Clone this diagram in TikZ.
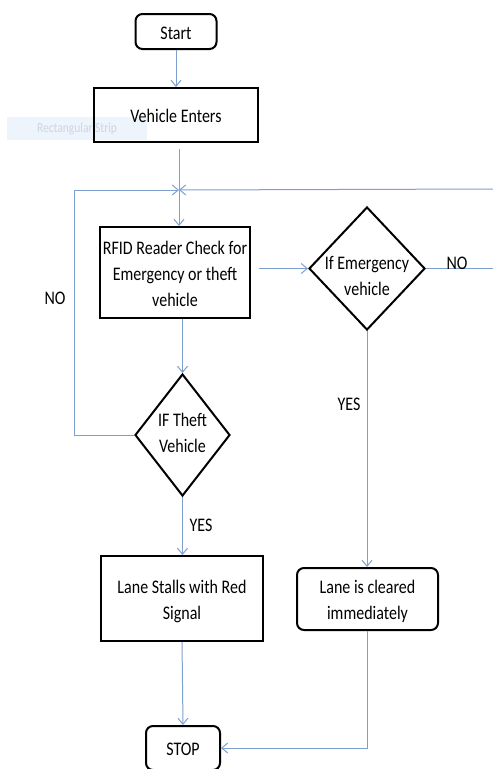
\documentclass[tikz,border=0pt]{standalone}
\usepackage{fontspec}
\usepackage{graphicx}
\setmainfont{Carlito}
\usetikzlibrary{shapes.geometric,arrows.meta}
\definecolor{conncol}{RGB}{126,160,206}
\definecolor{stripfill}{RGB}{238,244,251}
\definecolor{striptext}{RGB}{205,213,225}
\newcommand{\tallt}[1]{\raisebox{-2.5pt}[\height][\depth]{\scalebox{1}[1.2]{\begin{tabular}{@{}c@{}}#1\end{tabular}}}}
\tikzset{
  x=1pt,y=-1pt,
  boxbase/.style={draw=black,line width=2pt,inner sep=0pt,font=\fontsize{16}{21.7}\selectfont,align=center},
  sqbox/.style={boxbase},
  rndbox/.style={boxbase,rounded corners=7pt},
  dia/.style={draw=black,line width=2pt,diamond,inner sep=0pt},
  txt/.style={font=\fontsize{16}{21.7}\selectfont,align=center,inner sep=0pt},
  conn/.style={draw=conncol,line width=1pt},
  arr/.style={conn,-{Straight Barb[length=6pt,width=10pt]}},
}
\begin{document}
\begin{tikzpicture}
\useasboundingbox (0,0) rectangle (493,769);
% faint strip
\node[fill=stripfill,minimum width=140pt,minimum height=23pt,inner sep=0pt,text=striptext,font=\fontsize{11.5}{14}\selectfont] (strip) at (77,128.5) {\scalebox{1}[1.2]{Rectangular Strip}};
% nodes
\node[rndbox,minimum width=81pt,minimum height=35pt] (start) at (176,31.5) {\tallt{Start}};
\node[sqbox,minimum width=164pt,minimum height=54pt] (veh) at (176,115) {\tallt{Vehicle Enters}};
\node[sqbox,minimum width=150pt,minimum height=91pt] (rfid) at (175,272.5) {};
\node[txt] (rfidt) at (175,272.5) {\tallt{RFID Reader Check for\\Emergency or theft\\vehicle}};
\node[dia,minimum width=116pt,minimum height=123pt] (emerg) at (367,268.5) {};
\node[txt] (emergt) at (367,275) {\tallt{If Emergency\\vehicle}};
\node[dia,minimum width=95pt,minimum height=122pt] (theft) at (182.5,435) {};
\node[txt] (theftt) at (182.5,432) {\tallt{IF Theft\\Vehicle}};
\node[sqbox,minimum width=162pt,minimum height=85pt] (stall) at (182,598.5) {\tallt{Lane Stalls with Red\\Signal}};
\node[rndbox,minimum width=141pt,minimum height=62pt] (clear) at (367.5,599) {\tallt{Lane is cleared\\immediately}};
\node[rndbox,minimum width=74pt,minimum height=44pt] (stop) at (183,748) {\tallt{STOP}};
% coordinates
\coordinate (j) at (179,190);
\coordinate (lc) at (74,190);
\coordinate (re) at (493,189);
\coordinate (ne) at (493,268.5);
% connectors
\draw[arr] (start) -- (veh);
\draw[arr,shorten <=6pt] (veh.south -| j) -- (rfid.north -| j);
\draw[arr] (theft.west) -| (lc) -- (j);
\draw[arr] (re) -- (j);
\draw[arr,shorten <=8pt] (rfid.east |- emerg.west) -- (emerg.west);
\draw[conn] (emerg.east) -- (ne);
\draw[arr] (rfid.south -| theft.north) -- (theft.north);
\draw[arr] (theft.south) -- (stall.north -| theft.south);
\draw[arr] (emerg.south) -- (clear.north -| emerg.south);
\draw[arr] (stall.south) -- (stop.north);
\draw[arr] (clear.south) |- (stop.east);
% labels
\node[txt] (no1) at (55,297) {\tallt{NO}};
\node[txt] (no2) at (457,262) {\tallt{NO}};
\node[txt] (yes1) at (349,403) {\tallt{YES}};
\node[txt] (yes2) at (201,524) {\tallt{YES}};
\end{tikzpicture}
\end{document}
